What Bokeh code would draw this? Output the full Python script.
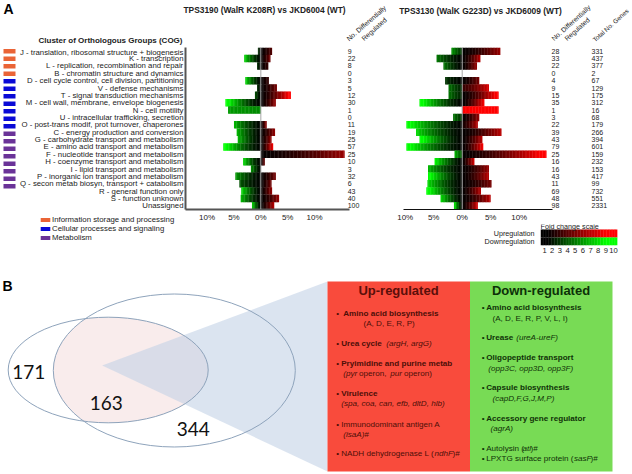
import numpy as np
from bokeh.embed import file_html
from bokeh.resources import INLINE
from bokeh.plotting import figure
from bokeh.layouts import row, column, Spacer
from bokeh.models import Range1d, FixedTicker, Span, Legend, LegendItem, ColumnDataSource
from bokeh.core.properties import value

FONT = "Liberation Sans"

cogs = ["J - translation, ribosomal structure + biogenesis", "K - transcription",
        "L - replication, recombination and repair", "B - chromatin structure and dynamics",
        "D - cell cycle control, cell division, partitioning", "V - defense mechanisms",
        "T - signal transduction mechanisms", "M - cell wall, membrane, envelope biogenesis",
        "N - cell motility", "U - intracellular trafficking, secretion",
        "O - post-trans modif, prot turnover, chaperones", "C - energy production and conversion",
        "G - carbohydrate transport and metabolism", "E - amino acid transport and metabolism",
        "F - nucleotide transport and metabolism", "H - coenzyme transport and metabolism",
        "I - lipid transport and metabolism", "P - inorganic ion transport and metabolism",
        "Q - secon metab biosyn, transport + catabolism", "R - general function only",
        "S - function unknown", "Unassigned"]
groups = ["info"] * 4 + ["cell"] * 7 + ["meta"] * 8 + [None] * 3

# Panel 1: % of genes down / up, and fold-change level at bar start and tip
p1_down = [0.55, 3.1, 0.7, 0, 2.9, 0.7, 1.1, 6.6, 6.1, 0, 5.0, 4.5, 4.3, 7.0, 0, 3.3, 1.85, 4.75, 4.0, 3.65, 3.75, 1.65]
p1_up = [2.1, 1.8, 1.4, 0, 1.5, 3.0, 5.6, 2.8, 0, 0, 1.1, 2.65, 2.0, 2.3, 15.6, 0.75, 0, 2.8, 2.0, 2.1, 3.4, 2.5]
p1_down_tip = [3, 8, 3, 1, 8, 3, 4, 10, 6, 1, 7, 7, 7, 10, 1, 8, 6, 6, 4, 8, 7, 8]
p1_up_tip = [4, 5, 3, 1, 3, 5, 10, 6, 1, 1, 6, 6, 6, 9, 6, 5, 1, 5, 5, 6, 6, 7]
p1_down_start = [1.5, 1.5, 1.5, 1, 1.5, 1.5, 1.5, 1.5, 5.5, 1, 1.5, 1.5, 1.5, 1.5, 1, 1.5, 1.5, 1.5, 1.5, 1.5, 1.5, 1.5]
p1_up_start = [1.5] * 22
p1_counts = [9, 22, 8, 0, 3, 5, 12, 30, 1, 0, 11, 19, 25, 57, 25, 10, 3, 32, 6, 43, 40, 100]

# Panel 2
p2_down = [1.9, 4.5, 3.3, 0, 3.0, 2.4, 2.4, 7.5, 0, 1.6, 9.8, 8.1, 7.5, 9.8, 1.35, 4.85, 6.0, 6.0, 6.1, 6.3, 3.8, 1.45]
p2_up = [6.7, 3.2, 2.6, 0, 3.0, 4.7, 6.4, 3.9, 6.4, 3.0, 2.75, 6.9, 3.55, 3.7, 14.8, 2.15, 4.7, 4.7, 5.15, 3.3, 5.0, 2.75]
p2_down_tip = [6, 5, 5, 1, 3, 5, 5, 10, 1, 5, 10, 8, 10, 10, 7, 9, 7, 10, 8, 10, 8, 9]
p2_up_tip = [6, 7, 6, 1, 5, 8, 10, 9, 10, 6, 7, 7, 7, 9, 10, 8, 6, 7, 5, 7, 7, 8]
p2_down_start = [3, 1.5, 1.5, 1, 1.5, 2.5, 2.5, 1.5, 1, 3, 1.5, 1.5, 1.5, 1.5, 4, 1.5, 1.5, 1.5, 1.5, 1.5, 1.5, 1.5]
p2_up_start = [1.5, 1.5, 1.5, 1, 1.5, 3, 1.5, 1.5, 9.5, 1.5, 2, 1.5, 1.5, 1.5, 1.5, 1.5, 1.5, 1.5, 1.5, 1.5, 1.5, 1.5]
p2_counts = [28, 33, 22, 0, 4, 9, 15, 35, 1, 3, 22, 39, 43, 79, 25, 16, 16, 43, 11, 69, 48, 98]
total_genes = [331, 437, 377, 2, 67, 129, 175, 312, 16, 68, 179, 266, 394, 601, 159, 232, 153, 417, 99, 732, 551, 2331]

pct_ticks = [-10, -5, 0, 5, 10]
pct_labels = {-10: "10%", -5: "5%", 0: "0%", 5: "5%", 10: "10%"}
fold_ticks = list(range(1, 11))
venn_numbers = ["171", "163", "344"]

GROUP_COL = {"info": "#ea6436", "cell": "#0a0ad6", "meta": "#6a3398"}
GROUP_NAME = {"info": "Information storage and processing", "cell": "Cellular processes and signaling",
              "meta": "Metabolism"}

TOP_STRIP = 47
MID_H = 177      # frame 165 + 12 for the tick labels
LOW_TOP = TOP_STRIP + MID_H
LOW_H = 275 - LOW_TOP
TXT = "#222222"
rows = list(range(len(cogs)))


def level_colour(level, kind):
    t = float(np.clip((level - 1.4) / 7.6, 0, 1))
    c = int(round(255 * t))
    return f"#{c:02x}0000" if kind == "up" else f"#00{c:02x}00"


def segments(values, starts, tips, kind):
    ys, lefts, rights, cols = [], [], [], []
    sign = 1 if kind == "up" else -1
    for r, v, s, t in zip(rows, values, starts, tips):
        if v <= 0:
            continue
        n = max(3, int(v * 4))
        edges = np.linspace(0, v, n + 1)
        for i in range(n):
            f = ((i + 0.5) / n) ** 1.5
            level = s + (t - s) * f
            a, b = edges[i], min(edges[i + 1] + v / n * 0.25, v)
            ys.append(r)
            lefts.append(sign * a)
            rights.append(sign * b)
            cols.append(level_colour(level, kind))
    return ColumnDataSource(dict(y=ys, left=lefts, right=rights, color=cols))


def base(width, height, xr, yr, left=0, right=0, top=0, bottom=0, noaxes=False):
    f = figure(width=width, height=height, x_range=xr, y_range=yr, output_backend="svg",
               toolbar_location=None, min_border_left=left, min_border_right=right,
               min_border_top=top, min_border_bottom=bottom, frame_align=False,
               x_axis_location=None if noaxes else "below", y_axis_location=None if noaxes else "left")
    f.outline_line_color = None
    f.grid.visible = False
    f.background_fill_color = None
    f.border_fill_color = None
    return f


def style_axis(ax, size):
    ax.major_tick_line_color = None
    ax.minor_tick_line_color = None
    ax.major_tick_out = 0
    ax.major_tick_in = 0
    ax.minor_tick_out = 0
    ax.minor_tick_in = 0
    ax.major_label_text_font = FONT
    ax.major_label_text_font_size = size
    ax.major_label_text_color = TXT


def txt(f, x, y, text, size, style="normal", align="left", angle=0, color=TXT, font=FONT):
    f.text(x=[x], y=[y], text=[text], text_font=value(font), text_font_size=size, text_font_style=style,
           text_align=align, text_baseline="middle", angle=angle, angle_units="deg", text_color=color)


def bars(f, down, up, dstart, ustart, dtip, utip):
    f.add_layout(Span(location=0, dimension="height", line_color="#a8a8a8", line_width=1))
    for src in (segments(down, dstart, dtip, "down"), segments(up, ustart, utip, "up")):
        f.hbar(y="y", left="left", right="right", height=1.02, color="color", source=src, line_width=0, line_color=None)


# ---- header strip
hd = base(632, TOP_STRIP, Range1d(0, 632), Range1d(TOP_STRIP, 0), noaxes=True)
txt(hd, 3, 8.5, "A", "14px", "bold", color="#000000")
txt(hd, 182, 40, "Cluster of Orthologous Groups (COG)", "8px", "bold", align="right")
txt(hd, 264, 9, "TPS3190 (WalR K208R) vs JKD6004 (WT)", "8.4px", "bold", align="center")
txt(hd, 480, 10, "TPS3130 (WalK G223D) vs JKD6009 (WT)", "8.4px", "bold", align="center")
txt(hd, 347, 39, "No. Differentially", "6.8px", angle=41)
txt(hd, 362, 39, "Regulated", "6.8px", angle=42)
txt(hd, 552, 39, "No. Differentially", "6.8px", angle=42)
txt(hd, 565, 39, "Regulated", "6.8px", angle=42)
txt(hd, 593, 40, "Total No. Genes", "6.4px", angle=42)

# ---- swatches
p0 = base(16, MID_H, Range1d(0, 16), Range1d(21.5, -0.5), bottom=12, noaxes=True)
sw = [(r, GROUP_COL[g]) for r, g in zip(rows, groups) if g]
p0.hbar(y=[s[0] for s in sw], left=3, right=15, height=0.62, color=[s[1] for s in sw], line_color=None)

# ---- panel 1
S1, Z1 = 5.4, 259.7
px1 = lambda px: (px - Z1) / S1
p1 = base(376, MID_H, Range1d(px1(184), px1(392)), Range1d(21.5, -0.5), left=168, bottom=12)
bars(p1, p1_down, p1_up, p1_down_start, p1_up_start, p1_down_tip, p1_up_tip)
p1.text(x=[px1(347)] * 22, y=rows, text=[str(v) for v in p1_counts], text_font=value(FONT),
        text_font_size="7px", text_baseline="middle", text_color=TXT)
p1.xaxis.ticker = FixedTicker(ticks=pct_ticks)
p1.xaxis.major_label_overrides = pct_labels
p1.xaxis.bounds = (px1(184), px1(349))
p1.xaxis.axis_line_color = "#555555"
p1.xaxis.axis_line_width = 2
p1.xaxis.major_label_standoff = 3
p1.yaxis.ticker = FixedTicker(ticks=rows)
p1.yaxis.major_label_overrides = dict(zip(rows, cogs))
p1.yaxis.axis_line_color = "#555555"
p1.yaxis.axis_line_width = 2
p1.yaxis.major_label_standoff = 2
style_axis(p1.xaxis[0], "8px")
style_axis(p1.yaxis[0], "7.8px")

# ---- panel 2
S2, Z2 = 5.7, 461.7
px2 = lambda px: (px - Z2) / S2
p2 = base(240, MID_H, Range1d(px2(392), px2(632)), Range1d(21.5, -0.5), bottom=12)
bars(p2, p2_down, p2_up, p2_down_start, p2_up_start, p2_down_tip, p2_up_tip)
p2.text(x=[px2(551)] * 22, y=rows, text=[str(v) for v in p2_counts], text_font=value(FONT),
        text_font_size="7px", text_baseline="middle", text_color=TXT)
p2.text(x=[px2(591)] * 22, y=rows, text=[str(v) for v in total_genes], text_font=value(FONT),
        text_font_size="7px", text_baseline="middle", text_color=TXT)
p2.yaxis.visible = False
p2.xaxis.ticker = FixedTicker(ticks=pct_ticks)
p2.xaxis.major_label_overrides = pct_labels
p2.xaxis.bounds = (px2(403), px2(552))
p2.xaxis.axis_line_color = "#111111"
p2.xaxis.major_label_standoff = 3
style_axis(p2.xaxis[0], "8px")

# ---- COG group legend: overlaps the empty corner under the category labels
LEG_EXTRA = 9
lg = base(184, LOW_H + LEG_EXTRA, Range1d(0, 184), Range1d(0, 1), noaxes=True)
items = []
for g in ["info", "cell", "meta"]:
    # the bar itself sits outside the range: only its legend swatch is seen
    r = lg.hbar(y=[-10], left=[0], right=[1], height=1, color=GROUP_COL[g], line_color=None)
    items.append(LegendItem(label=GROUP_NAME[g], renderers=[r]))
lg.add_layout(Legend(items=items, location=(39, 33), orientation="vertical", background_fill_alpha=0,
                     border_line_color=None, padding=0, margin=0, spacing=0, glyph_height=5, glyph_width=12,
                     label_standoff=1, label_text_font=FONT, label_text_font_size="7.8px", label_height=8,
                     label_text_color=TXT))
lg.margin = (-LEG_EXTRA, 0, 0, 0)

# ---- fold change scale (frame reaches up to hold its title)
sc_y0 = (LOW_TOP - 229) / 8 - 0.5
sc = base(240, LOW_H, Range1d(0.48, 10.52), Range1d(1.5, sc_y0), left=148, right=15, bottom=275 - 245)
fold_edges = np.arange(0.48, 10.52, 0.2)
for yy, kind in ((0, "up"), (1, "down")):
    sc.hbar(y=[yy] * len(fold_edges), left=fold_edges, right=fold_edges + 0.24, height=1.0,
            color=[level_colour(e + 0.1, kind) for e in fold_edges], line_color=None)
sc.xaxis.ticker = FixedTicker(ticks=fold_ticks)
sc.xaxis.axis_line_color = None
sc.yaxis.axis_line_color = None
sc.yaxis.ticker = FixedTicker(ticks=[0, 1])
sc.yaxis.major_label_overrides = {0: "Upregulation", 1: "Downregulation"}
sc.xaxis.major_label_standoff = 2
sc.yaxis.major_label_standoff = 6
style_axis(sc.xaxis[0], "7.6px")
style_axis(sc.yaxis[0], "7.2px")
txt(sc, 0.48, (226.4 - 229) / 8 - 0.5, "Fold change scale", "7.2px")

# ---- panel B (venn and summary tables)
B_H = 474 - 275
pb = base(632, B_H, Range1d(0, 632), Range1d(474, 275), noaxes=True)
L = dict(x=107.7, y=369.5, w=200, h=105.6)
R = dict(x=173.8, y=370, w=242, h=153)
ang = np.linspace(0, 2 * np.pi, 240)
cx, cy = 130.0, 370.0


def rad(e, t):
    dx, dy = np.cos(t), np.sin(t)
    ox, oy = cx - e["x"], cy - e["y"]
    a = (dx / (e["w"] / 2)) ** 2 + (dy / (e["h"] / 2)) ** 2
    b = 2 * (ox * dx / (e["w"] / 2) ** 2 + oy * dy / (e["h"] / 2) ** 2)
    c = (ox / (e["w"] / 2)) ** 2 + (oy / (e["h"] / 2)) ** 2 - 1
    return (-b + np.sqrt(b * b - 4 * a * c)) / (2 * a)


rr = np.minimum(rad(L, ang), rad(R, ang))
pb.patch(cx + rr * np.cos(ang), cy + rr * np.sin(ang), fill_color="#f9ecec", line_color=None)
pb.patch([101.7, 327, 327], [365, 281, 471], fill_color="#c3d2e6", fill_alpha=0.6, line_color=None)
for e in (L, R):
    pb.ellipse(x=e["x"], y=e["y"], width=e["w"], height=e["h"], fill_color=None, line_color="#8ea3bb", line_width=1)
for t, x, y in zip(venn_numbers, [28.3, 105.7, 192.7], [371, 402, 428]):
    txt(pb, x, y, t, "19px", align="center", color="#111111", font="Lato")
txt(pb, 2, 285, "B", "14px", "bold", color="#000000")
pb.quad(left=327, right=469.5, top=281, bottom=471, fill_color="#f94b3c", line_color=None)
pb.quad(left=469.5, right=612, top=281, bottom=471, fill_color="#78db55", line_color=None)
txt(pb, 398, 289.5, "Up-regulated", "13px", "bold", align="center", color="#5a0f0a")
txt(pb, 540.5, 289.5, "Down-regulated", "13px", "bold", align="center", color="#0c3008")

RED = "#4d0f08"
GRN = "#103208"
pieces = [
    # red panel
    (335.7, 312.7, "\u2022", "normal", RED), (342.7, 312.7, "Amino acid biosynthesis", "bold", RED),
    (363, 323, "(A, D, E, R, P)", "normal", RED),
    (335.7, 342.7, "\u2022", "normal", RED), (340.7, 342.7, "Urea cycle", "bold", RED),
    (385.7, 342.7, "(argH, argG)", "italic", RED),
    (335.7, 363, "\u2022", "normal", RED), (340.7, 363, "Pryimidine and purine metab", "bold", RED),
    (342.7, 373.3, "(pyr", "italic", RED), (358.5, 373.3, "operon,", "normal", RED),
    (389.7, 373.3, "pur", "italic", RED), (403.5, 373.3, "operon)", "normal", RED),
    (335.7, 392.7, "\u2022", "normal", RED), (340.7, 392.7, "Virulence", "bold", RED),
    (340.7, 403.3, "(spa, coa, can, efb, dltD, hlb)", "italic", RED),
    (335.7, 423.7, "\u2022", "normal", RED), (340.7, 423.7, "Immunodominant antigen A", "normal", RED),
    (342.7, 434, "(isaA)#", "italic", RED),
    (335.7, 453.3, "\u2022", "normal", RED), (340.7, 453.3, "NADH dehydrogenase L (", "normal", RED),
    (434, 453.3, "ndhF", "italic", RED), (452, 453.3, ")#", "normal", RED),
    # green panel
    (481.3, 307.3, "\u2022", "normal", GRN), (485.7, 307.3, "Amino acid biosynthesis", "bold", GRN),
    (492, 317.7, "(A, D, E, R, P, V, L, I)", "normal", GRN),
    (481.3, 337, "\u2022", "normal", GRN), (485.7, 337, "Urease", "bold", GRN),
    (515.7, 337, "(ureA-ureF)", "italic", GRN),
    (481.3, 357.3, "\u2022", "normal", GRN), (485.7, 357.3, "Oligopeptide transport", "bold", GRN),
    (487.7, 368, "(opp3C, opp3D, opp3F)", "italic", GRN),
    (481.3, 387.3, "\u2022", "normal", GRN), (485.7, 387.3, "Capsule biosynthesis", "bold", GRN),
    (492, 397.7, "(capD,F,G,J,M,P)", "italic", GRN),
    (481.3, 418, "\u2022", "normal", GRN), (485.7, 418, "Accessory gene regulator", "bold", GRN),
    (490, 428.3, "(agrA)", "italic", GRN),
    (481.3, 447.7, "\u2022", "normal", GRN), (485.7, 447.7, "Autolysin (", "normal", GRN),
    (522, 447.7, "atl", "italic", GRN), (530, 447.7, ")#", "normal", GRN),
    (481.3, 458, "\u2022", "normal", GRN), (485.7, 458, "LPXTG surface protein (", "normal", GRN),
    (573.5, 458, "sasF", "italic", GRN), (590, 458, ")#", "normal", GRN),
]
for x, y, t, st, col in pieces:
    txt(pb, x, y, t, "8.1px", st, color=col)

page = column(hd, row(p0, p1, p2, spacing=0), row(lg, Spacer(width=208, height=LOW_H), sc, spacing=0), pb,
              spacing=0, margin=(0, 0, 0, 0))
open("out.html", "w").write(file_html(page, INLINE))
